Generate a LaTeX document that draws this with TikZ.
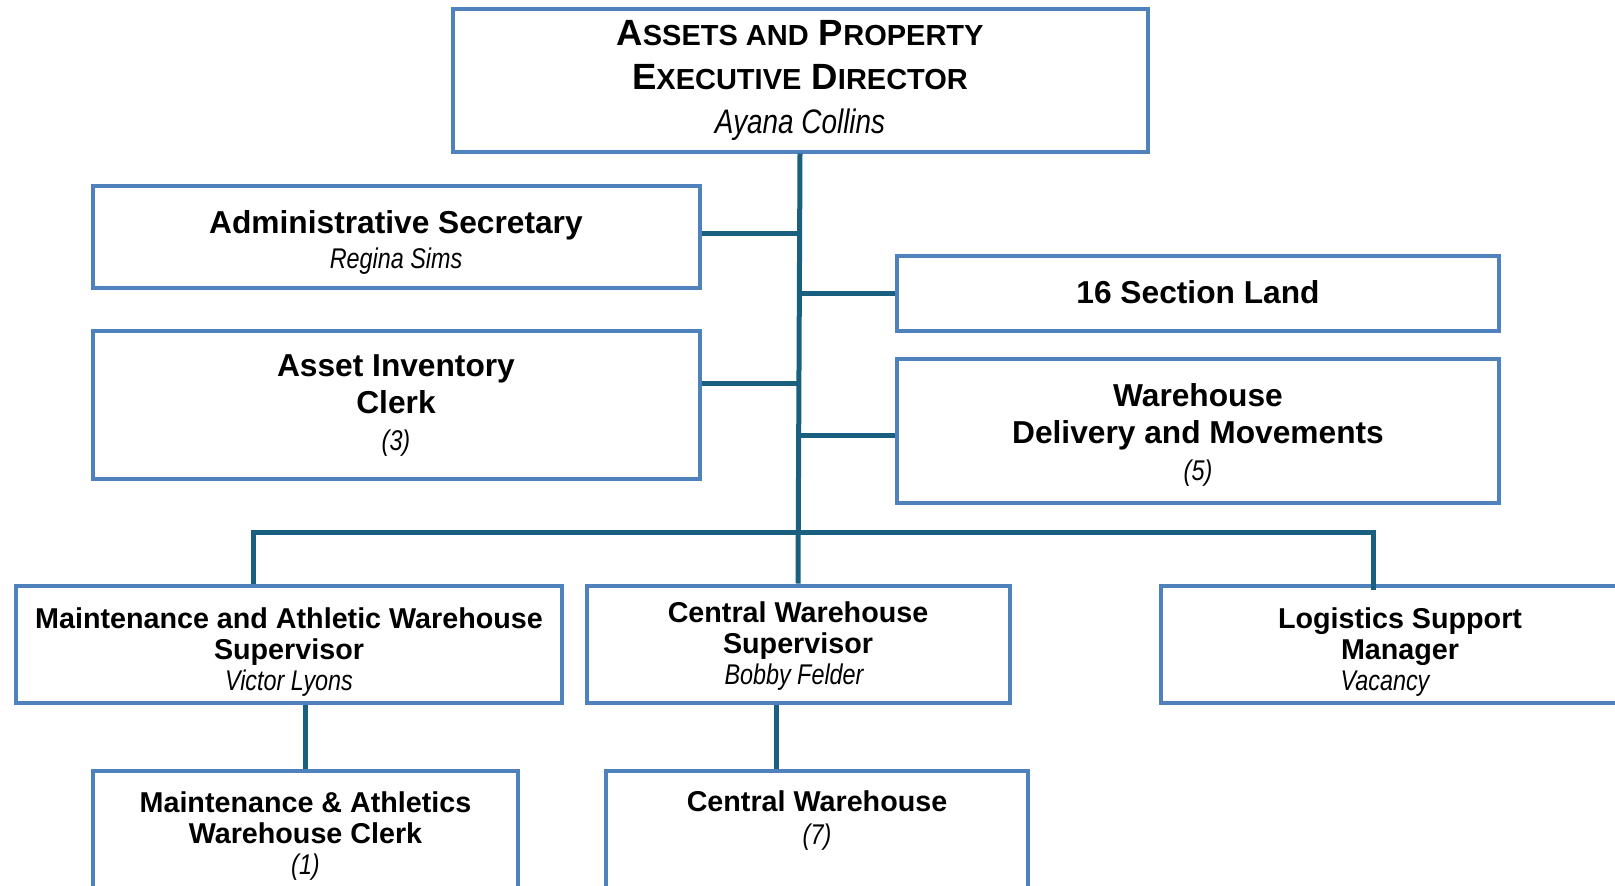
\documentclass[tikz,border=0pt]{standalone}
\usepackage{fontspec}
\setmainfont{Liberation Sans}
\newfontfamily\nameit[FakeStretch=0.82]{Liberation Sans}
\definecolor{boxblue}{RGB}{79,129,189}
\definecolor{linkblue}{RGB}{25,95,128}
\newcommand\smc[1]{{\fontsize{29}{44}\selectfont #1}}
\newcommand\nm[2]{{\nameit\itshape\mdseries\fontsize{#1}{#1}\selectfont #2}}
\begin{document}
\begin{tikzpicture}[x=1pt,y=-1pt,
  box/.style={draw=boxblue,line width=4pt,rectangle,inner sep=0pt},
  txt/.style={inner sep=0pt,align=center,font=\bfseries\fontsize{31.7}{37}\selectfont},
  ltxt/.style={txt,font=\bfseries\fontsize{28.7}{31}\selectfont},
  link/.style={draw=linkblue,line width=5pt}]
\clip (0,0) rectangle (1615,886);
% boxes
\node[box,minimum width=695pt,minimum height=143pt] (top) at (800,80) {};
\node[box,minimum width=607pt,minimum height=102pt] (admin) at (396,237) {};
\node[box,minimum width=607pt,minimum height=148pt] (asset) at (396,405) {};
\node[box,minimum width=602pt,minimum height=75pt] (land) at (1198,293) {};
\node[box,minimum width=602pt,minimum height=144pt] (whse) at (1198,431) {};
\node[box,minimum width=546pt,minimum height=117pt] (maint) at (289,644) {};
\node[box,minimum width=423pt,minimum height=117pt] (csup) at (798,644) {};
\node[box,minimum width=478pt,minimum height=117pt] (logi) at (1400,644) {};
\node[box,minimum width=425pt,minimum height=160pt] (mclerk) at (305.5,851) {};
\node[box,minimum width=422pt,minimum height=160pt] (cw) at (817,851) {};
% texts
\node[txt,font=\bfseries\fontsize{36.5}{44}\selectfont] (topT) at (top)
  {A\smc{SSETS AND} P\smc{ROPERTY}\\ E\smc{XECUTIVE} D\smc{IRECTOR}\\ \nm{34}{Ayana Collins}};
\node[txt] (adminT) at ([yshift=-5pt]admin)
  {Administrative Secretary\\[-2pt] \nm{28.5}{Regina Sims}};
\node[txt] (assetT) at ([yshift=-1pt]asset)
  {Asset Inventory\\ Clerk\\ \nm{28.5}{(3)}};
\node[txt] (landT) at ([yshift=1pt]land) {16 Section Land};
\node[txt] (whseT) at ([yshift=-4pt]whse)
  {Warehouse\\ Delivery and Movements\\ \nm{28.5}{(5)}};
\node[ltxt] (maintT) at ([yshift=-8pt]maint)
  {Maintenance and Athletic Warehouse\\ Supervisor\\ \nm{28.5}{Victor Lyons}};
\node[ltxt] (csupT) at ([yshift=-2pt]csup)
  {Central Warehouse\\ Supervisor\\ \nm{28.5}{Bobby Felder}\hspace*{8pt}};
\node[ltxt] (logiT) at ([yshift=-8pt]logi)
  {Logistics Support\\ Manager\\ \nm{28.5}{Vacancy}\hspace*{30pt}};
\node[ltxt] (mclerkT) at (305.5,836)
  {Maintenance \& Athletics\\ Warehouse Clerk\\ \nm{28.5}{(1)}};
\node[ltxt,font=\bfseries\fontsize{28.7}{33}\selectfont] (cwT) at (817,821)
  {Central Warehouse\\ \nm{28.5}{(7)}};
% connectors
\draw[link] (top.south) -- (csup.north);
\coordinate (a1) at ([yshift=4pt]admin.east);
\draw[link] (a1) -- (a1 -| top.south);
\draw[link] (land.west) -- (land.west -| top.south);
\coordinate (a2) at ([yshift=22pt]asset.east);
\draw[link] (a2) -- (a2 -| top.south);
\coordinate (a3) at ([yshift=-4pt]whse.west);
\draw[link] (a3) -- (a3 -| top.south);
\coordinate (bl) at (253,532);
\coordinate (br) at (1373,532);
\coordinate (lb) at ([yshift=-6pt]br |- logi.north);
\draw[link] (maint.north -| bl) -- (bl) -- (br) -- (lb);
\draw[link] (mclerk.north) -- (mclerk.north |- maint.south);
\coordinate (c1) at ([xshift=-22pt]csup.south);
\draw[link] (c1) -- (c1 |- cw.north);
\end{tikzpicture}
\end{document}
